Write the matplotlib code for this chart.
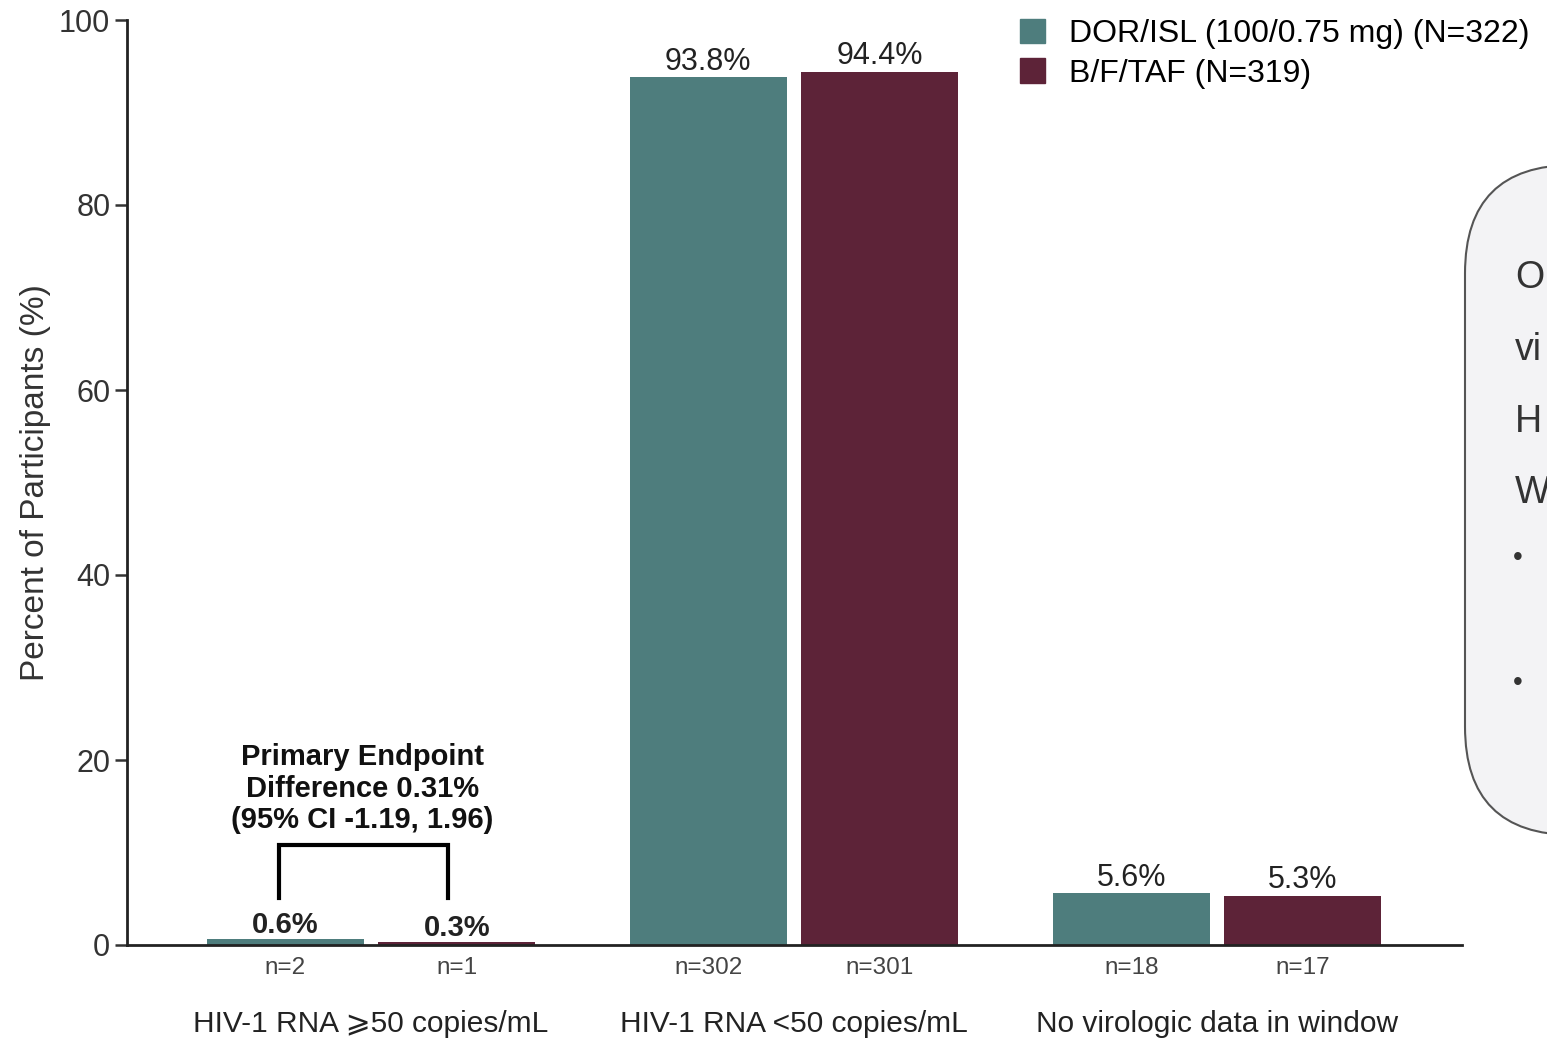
import matplotlib
matplotlib.use("Agg")
import matplotlib.pyplot as plt
from matplotlib.patches import FancyBboxPatch, Patch
import numpy as np

plt.rcParams['font.family'] = ['Liberation Sans', 'DejaVu Sans']

categories = ["HIV-1 RNA \u2A7E50 copies/mL", "HIV-1 RNA <50 copies/mL", "No virologic data in window"]
series_names = ["DOR/ISL (100/0.75 mg) (N=322)", "B/F/TAF (N=319)"]
dor_values = [0.6, 93.8, 5.6]
bft_values = [0.3, 94.4, 5.3]
dor_n = ["n=2", "n=302", "n=18"]
bft_n = ["n=1", "n=301", "n=17"]
yticks = [0, 20, 40, 60, 80, 100]

teal = "#4E7D7D"
maroon = "#5D2338"

fig = plt.figure(figsize=(15.47, 10.40), dpi=100)
ax = fig.add_axes([127/1547, 1-945/1040, (1462-127)/1547, (945-20)/1040])

x = np.arange(len(categories))
w = 0.371
off = 0.203
ax.bar(x - off, dor_values, width=w, color=teal, label=series_names[0])
ax.bar(x + off, bft_values, width=w, color=maroon, label=series_names[1])

ax.set_xlim(-0.577, 2.579)
ax.set_ylim(0, 100)
ax.set_yticks(yticks)
ax.tick_params(axis='y', labelsize=22, length=9, width=1.8, color='#333333', labelcolor='#333333', pad=3)
ax.set_ylabel("Percent of Participants (%)", fontsize=24, color='#333333', labelpad=6)
ax.yaxis.set_label_coords(-0.057, 0.5)

# category labels (major) and n labels (minor)
ax.set_xticks(x)
ax.set_xticklabels(categories, fontsize=21.5, color='#222222')
ax.set_xticks(np.concatenate([x - off, x + off]), minor=True)
ax.set_xticklabels(dor_n + bft_n, minor=True, fontsize=17.5, color='#444444')
ax.tick_params(axis='x', which='major', length=0, pad=46.5)
ax.tick_params(axis='x', which='minor', length=0, pad=9)

for s in ['top', 'right']:
    ax.spines[s].set_visible(False)
for s in ['left', 'bottom']:
    ax.spines[s].set_linewidth(2)
    ax.spines[s].set_color('#222222')

# value labels
for i in range(len(categories)):
    bold = 'bold' if i == 0 else 'normal'
    fs = 21 if i == 0 else 22
    dy = 0 if i == 0 else 0.5
    ax.annotate(f"{dor_values[i]}%", (x[i] - off, dor_values[i]), xytext=(0, dy), textcoords='offset points',
                ha='center', va='bottom', fontsize=fs, fontweight=bold, color='#222222')
    ax.annotate(f"{bft_values[i]}%", (x[i] + off, bft_values[i]), xytext=(0, dy), textcoords='offset points',
                ha='center', va='bottom', fontsize=fs, fontweight=bold, color='#222222')

# bracket
bx0, bx1 = -0.217, 0.182
ax.plot([bx0, bx0, bx1, bx1], [5.1, 10.8, 10.8, 5.1], color='black', lw=3, solid_joinstyle='miter')
ax.text(-0.02, 12.0, "Primary Endpoint\nDifference 0.31%\n(95% CI -1.19, 1.96)", ha='center', va='bottom',
        fontsize=21, fontweight='bold', linespacing=1.15, color='#111111')

# legend
handles = [Patch(color=teal), Patch(color=maroon)]
fig.legend(handles, series_names, loc='upper left', bbox_to_anchor=(1010/1547, 1-9/1040), frameon=False,
           fontsize=23, handlelength=0.8, handleheight=0.8, handletextpad=0.75, labelspacing=0.3,
           borderaxespad=0, borderpad=0.3)

# partially visible rounded box on the right
box = FancyBboxPatch((1465/1547, 1-835/1040), 0.2, (835-165)/1040,
                     boxstyle="round,pad=0,rounding_size=0.07", transform=fig.transFigure,
                     facecolor='#F3F3F5', edgecolor='#555555', lw=1.5, clip_on=False,
                     mutation_aspect=1547/1040)
fig.patches.append(box)
for txt, yy in [("O", 278), ("vi", 350), ("H", 422), ("W", 493)]:
    fig.text(1515/1547, 1-yy/1040, txt, fontsize=27, color='#333333', va='center', ha='left')
for yy in [558, 683]:
    fig.text(1513/1547, 1-yy/1040, "\u2022", fontsize=20, color='#333333', va='center', ha='left')

fig.savefig("out.png", dpi=100)
